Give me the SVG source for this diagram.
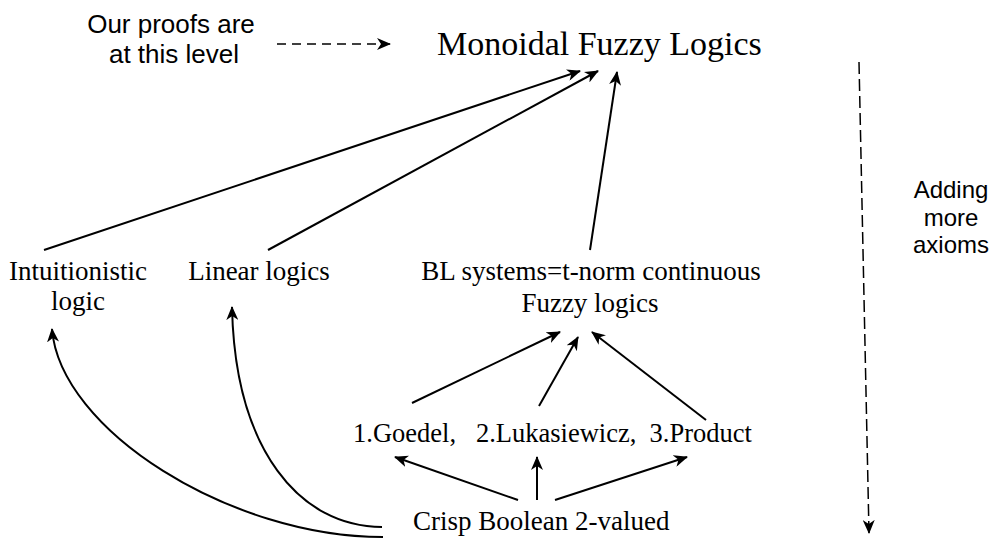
<svg xmlns="http://www.w3.org/2000/svg" width="993" height="539" viewBox="0 0 993 539">
<style>
.serif{font-family:"Liberation Serif","Times New Roman",serif;fill:#000}
.sans{font-family:"Liberation Sans",Arial,sans-serif;fill:#000}
.edge{fill:none;stroke:#000;stroke-width:2}
.dash{fill:none;stroke:#000;stroke-width:1.5}
</style>
<defs>
<marker id="ah" viewBox="0 0 14 12" refX="13" refY="6" markerWidth="14" markerHeight="12" markerUnits="userSpaceOnUse" orient="auto">
<path d="M0,0 L14,6 L0,12 L4,6 z" fill="#000"/>
</marker>
</defs>
<rect width="993" height="539" fill="#fff"/>
<g id="note">
<text class="sans" font-size="26" text-anchor="middle" x="171" y="33">Our proofs are</text>
<text class="sans" font-size="26" text-anchor="middle" x="174" y="63">at this level</text>
</g>
<g id="axioms">
<text class="sans" font-size="24" text-anchor="middle" x="951" y="198">Adding</text>
<text class="sans" font-size="24" text-anchor="middle" x="951" y="226">more</text>
<text class="sans" font-size="24" text-anchor="middle" x="951" y="253">axioms</text>
</g>
<g id="monoidal">
<text class="serif" font-size="34" x="437" y="55">Monoidal Fuzzy Logics</text>
</g>
<g id="intuitionistic">
<text class="serif" font-size="27" text-anchor="middle" x="78" y="280">Intuitionistic</text>
<text class="serif" font-size="27" text-anchor="middle" x="78" y="310">logic</text>
</g>
<g id="linear">
<text class="serif" font-size="27" text-anchor="middle" x="259" y="280">Linear logics</text>
</g>
<g id="bl">
<text class="serif" font-size="27" text-anchor="middle" x="591" y="280">BL systems=t-norm continuous</text>
<text class="serif" font-size="27" text-anchor="middle" x="590" y="312">Fuzzy logics</text>
</g>
<g id="tnorms">
<text class="serif" font-size="26.5" x="353" y="442" style="white-space:pre">1.Goedel,   2.Lukasiewicz,  3.Product</text>
</g>
<g id="crisp">
<text class="serif" font-size="27" x="413" y="530">Crisp Boolean 2-valued</text>
</g>
<g id="connectors">
<line class="dash" stroke-dasharray="9 6" x1="277" y1="44" x2="390" y2="44" marker-end="url(#ah)"/>
<line class="dash" stroke-dasharray="12 5" x1="859" y1="62" x2="869" y2="533" marker-end="url(#ah)"/>
<line class="edge" x1="44" y1="250" x2="580" y2="71" marker-end="url(#ah)"/>
<line class="edge" x1="268" y1="250" x2="598" y2="71" marker-end="url(#ah)"/>
<line class="edge" x1="590" y1="250" x2="617" y2="72" marker-end="url(#ah)"/>
<line class="edge" x1="412" y1="403" x2="560" y2="332" marker-end="url(#ah)"/>
<line class="edge" x1="539" y1="406" x2="578" y2="337" marker-end="url(#ah)"/>
<line class="edge" x1="706" y1="420" x2="592" y2="332" marker-end="url(#ah)"/>
<line class="edge" x1="518" y1="500" x2="395" y2="457" marker-end="url(#ah)"/>
<line class="edge" x1="537" y1="500" x2="537" y2="457" marker-end="url(#ah)"/>
<line class="edge" x1="555" y1="500" x2="687" y2="457" marker-end="url(#ah)"/>
<path class="edge" d="M383,537 C230,537 60,430 52,329" marker-end="url(#ah)"/>
<path class="edge" d="M382,527 C300,527 235,450 232,307" marker-end="url(#ah)"/>
</g>
</svg>
